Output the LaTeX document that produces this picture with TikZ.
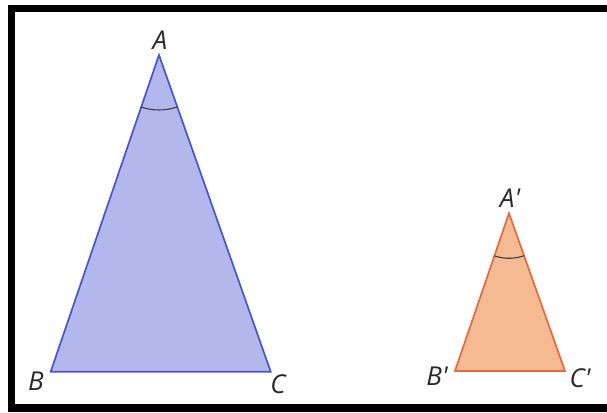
\documentclass[tikz,border=0pt]{standalone}
\usepackage{fontspec}
\setmainfont{Open Sans}
\usetikzlibrary{angles}
\definecolor{bfill}{RGB}{180,183,236}
\definecolor{bline}{RGB}{70,84,214}
\definecolor{ofill}{RGB}{246,186,146}
\definecolor{oline}{RGB}{232,104,58}
\definecolor{lbl}{RGB}{40,40,45}
\tikzset{
  lab/.style={text=lbl, font=\fontsize{26}{30}\selectfont\itshape, inner sep=0pt},
  bigtri/.style={fill=bfill, draw=bline, line width=1.7pt, line join=miter},
  smalltri/.style={fill=ofill, draw=oline, line width=1.7pt, line join=miter},
  anglemark/.style={draw=lbl!90, line width=1.1pt}
}
\newcommand{\prm}{\textquotesingle}
\begin{document}
\begin{tikzpicture}[x=1pt,y=1pt]
\useasboundingbox (0,0) rectangle (607,412);
\fill[white] (0,0) rectangle (607,412);
% frame
\fill[black] (8,0) rectangle (607,407);
\fill[white] (15,8) rectangle (607,400);
% vertices
\coordinate (A) at (159,357);
\coordinate (B) at (50.7,40.3);
\coordinate (C) at (270.7,40.3);
\coordinate (A2) at (509,198.7);
\coordinate (B2) at (455,41);
\coordinate (C2) at (565,41);
% triangles
\filldraw[bigtri] (A) -- (B) -- (C) -- cycle;
\filldraw[smalltri] (A2) -- (B2) -- (C2) -- cycle;
% angle marks
\pic[anglemark, angle radius=55pt] {angle = B--A--C};
\pic[anglemark, angle radius=45pt] {angle = B2--A2--C2};
% labels
\node[lab] (lA) at (160,371.3) {A};
\node[lab] (lB) at (36,30.5) {B};
\node[lab] (lC) at (278,28) {C};
\node[lab] (lA2) at (510,214) {A\prm};
\node[lab] (lB2) at (437,36) {B\prm};
\node[lab] (lC2) at (580,34) {C\prm};
\end{tikzpicture}
\end{document}
